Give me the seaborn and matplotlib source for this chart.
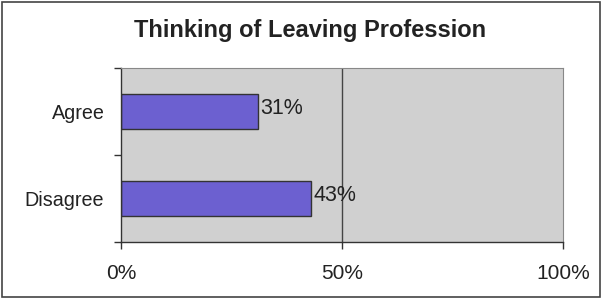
import numpy as np
import pandas as pd
import seaborn as sns
import matplotlib
matplotlib.use('Agg')
import matplotlib.pyplot as plt
from matplotlib.ticker import FixedLocator, FuncFormatter

categories = ["Agree", "Disagree"]
values = [31, 43]
title = "Thinking of Leaving Profession"

df = pd.DataFrame({"answer": categories, "pct": values})

sns.set_style("white")
plt.rcParams['font.family'] = ['Liberation Sans', 'DejaVu Sans']

fig = plt.figure(figsize=(6.02, 2.99), dpi=100)
ax = fig.add_axes([121 / 602, 1 - 242 / 299, 442 / 602, 174 / 299])
ax.set_facecolor("#d0d0d0")

sns.barplot(x="pct", y="answer", data=df, orient="h", ax=ax, color="#6c60d0",
            saturation=1, width=0.41, edgecolor="#333333", linewidth=1)

ax.set_xlim(0, 100)
ax.set_ylim(1.5, -0.5)
ax.axvline(50, color="#444444", lw=1)

for i, v in enumerate(values):
    ax.text(v + 0.6, i - 0.03, f"{v}%", va="center", ha="left", fontsize=15.5, color="#222222")

ax.xaxis.set_major_locator(FixedLocator([0, 50, 100]))
ax.xaxis.set_major_formatter(FuncFormatter(lambda v, p: f"{v:.0f}%"))
ax.yaxis.set_major_locator(FixedLocator([0, 1]))
ax.set_yticklabels(categories)
ax.yaxis.set_minor_locator(FixedLocator([-0.5, 0.5, 1.5]))
ax.tick_params(axis="y", which="major", length=0, labelsize=14.2, pad=12, labelcolor="#222222")
ax.tick_params(axis="y", which="minor", length=5, width=1, color="#333333", left=True)
ax.tick_params(axis="x", length=5, width=1, color="#333333", bottom=True, labelsize=15,
               pad=11, labelcolor="#222222")
ax.set_xlabel("")
ax.set_ylabel("")

for side in ["top", "right"]:
    ax.spines[side].set_color("#888888")
    ax.spines[side].set_linewidth(0.8)
for side in ["left", "bottom"]:
    ax.spines[side].set_color("#333333")
    ax.spines[side].set_linewidth(1)

fig.text(310 / 602, 1 - 31 / 299, title, ha="center", va="center", fontsize=17,
         fontweight="bold", color="#222222")

fig.patches.append(plt.Rectangle((0.004, 0.006), 0.992, 0.988, transform=fig.transFigure,
                                 fill=False, edgecolor="#444444", lw=1.2))

fig.savefig("out.png", dpi=100)
